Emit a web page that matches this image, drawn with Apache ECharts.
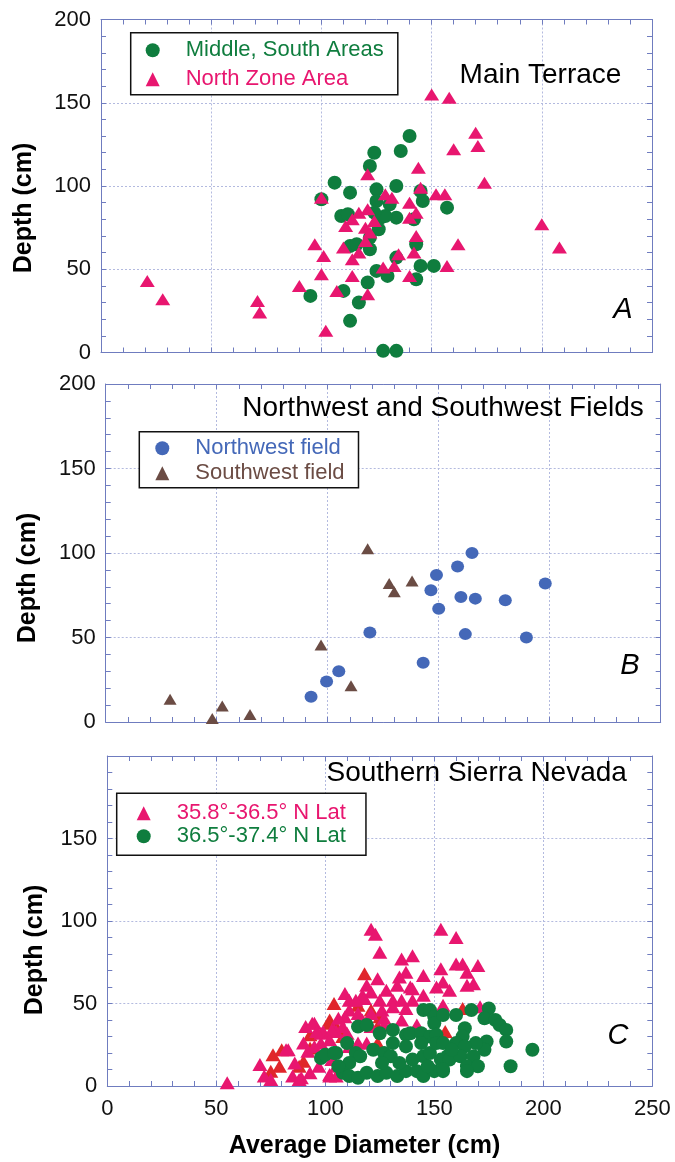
<!DOCTYPE html>
<html>
<head>
<meta charset="utf-8">
<script src="https://cdn.jsdelivr.net/npm/echarts@6/dist/echarts.min.js"></script>
<style>
  html, body { margin: 0; padding: 0; background: #fff; }
  #chart { width: 675px; height: 1162px; }
</style>
</head>
<body>
<div id="chart"></div>
<script>
// ---- data (average diameter cm, depth cm) ----
// A: Main Terrace
const mainCircles = [
  [95, 34], [100, 92], [106, 102], [124, 120], [122, 112], [113, 96], [125, 98], [109, 82],
  [112, 83], [125, 91], [131, 89], [113, 64], [116, 65], [122, 62], [125, 49], [121, 42],
  [110, 37], [117, 30], [113, 19], [128, 1], [134, 1], [140, 130], [136, 121], [134, 100],
  [145, 97], [146, 91], [157, 87], [127, 81], [134, 81], [142, 80], [126, 74], [122, 69],
  [143, 65], [134, 57], [130, 46], [145, 52], [151, 52], [143, 44], [129, 82], [124, 84]
];
const mainTriangles = [
  [21, 43], [28, 32], [71, 31], [72, 24], [90, 40], [97, 65], [100, 93], [101, 58],
  [100, 47], [102, 13], [107, 37], [121, 107], [117, 84], [121, 86], [114, 80], [111, 76],
  [120, 75], [122, 72], [120, 67], [110, 63], [117, 60], [114, 56], [114, 46], [121, 35],
  [150, 155], [158, 153], [170, 132], [171, 124], [160, 122], [174, 102], [144, 111], [145, 99],
  [152, 95], [156, 95], [129, 95], [132, 93], [140, 90], [143, 84], [140, 81], [124, 79],
  [143, 70], [162, 65], [135, 59], [142, 60], [128, 51], [133, 52], [157, 52], [140, 46],
  [200, 77], [208, 63]
];
// B: Northwest and Southwest Fields
const nwField = [
  [92.5, 15], [99.5, 24], [105, 30], [119, 53], [143, 35], [149, 87], [146.5, 78], [150, 67],
  [158.5, 92], [165, 100], [160, 74], [166.5, 73], [162, 52], [180, 72], [189.5, 50], [198, 82]
];
const swField = [
  [29, 13.5], [48, 2], [52.5, 9.5], [65, 4.5], [97, 45.5], [110.5, 21.5], [118, 102.5],
  [127.7, 82], [130, 77], [138, 83.5]
];
// C: Southern Sierra Nevada
const latSouth = [
  [55, 2], [70, 13], [72, 6], [75, 4], [83, 22], [86, 14], [85, 6], [89, 5], [90, 26],
  [91, 36], [95, 38], [98, 32], [99, 33], [92, 21], [95, 24], [88, 4], [102, 7], [105, 12],
  [104, 34], [98, 26], [82, 22], [94, 38], [96, 33], [100, 20], [103, 16], [97, 12], [93, 8],
  [121, 95], [123, 92], [125, 81], [153, 95], [135, 77], [140, 79], [124, 65], [137, 69],
  [134, 66], [145, 67], [153, 71], [154, 63], [139, 60], [140, 59], [133, 61], [151, 60],
  [145, 55], [121, 57], [119, 61], [117, 55], [118, 53], [128, 58], [131, 52], [125, 52],
  [109, 56], [111, 52], [114, 52], [135, 52], [140, 52], [137, 47], [111, 46], [115, 44],
  [109, 42], [121, 44], [126, 46], [131, 48], [127, 41], [135, 40], [154, 49], [106, 41],
  [108, 36], [142, 37], [160, 90], [160, 74], [163, 74], [165, 69], [170, 73], [157, 58],
  [165, 61], [168, 62], [171, 48], [117, 40], [121, 36], [127, 37], [105, 33], [110, 32],
  [111, 24], [115, 26], [119, 26], [102, 6], [105, 6], [103, 34], [102, 28]
];
const latSouthRed = [
  [76, 19], [79, 12], [75, 9], [80, 22], [90, 15], [88, 12], [93, 31], [104, 50], [102, 40],
  [93, 23], [118, 68], [115, 49], [121, 46], [124, 36], [125, 42], [102, 38], [105, 36],
  [108, 35], [108, 30], [124, 26], [155, 33], [163, 47]
];
const latNorth = [
  [98, 17], [100, 19], [115, 36], [119, 37], [125, 32], [131, 34], [137, 31], [139, 32],
  [145, 46], [148, 46], [150, 42], [150, 38], [154, 43], [144, 32], [148, 30], [151, 31],
  [110, 26], [105, 20], [104, 20], [114, 20], [116, 18], [111, 14], [122, 22], [127, 20],
  [131, 26], [130, 18], [137, 24], [144, 26], [145, 18], [148, 20], [151, 26], [154, 26],
  [156, 18], [108, 8], [111, 6], [115, 5], [119, 8], [124, 6], [128, 8], [133, 6], [137, 9],
  [142, 9], [145, 6], [150, 9], [154, 9], [134, 14], [140, 16], [160, 43], [167, 46],
  [175, 47], [173, 41], [178, 40], [180, 37], [183, 34], [164, 35], [163, 30], [183, 27],
  [174, 27], [173, 22], [169, 26], [160, 26], [164, 24], [195, 22], [153, 16], [157, 16],
  [162, 18], [168, 18], [165, 12], [170, 12], [154, 10], [165, 9], [185, 12], [106, 12],
  [126, 14], [147, 12], [158, 22]
];

// tick labels
const xTicks = [0, 50, 100, 150, 200, 250];
const yTicks = [0, 50, 100, 150, 200];
const yTicksC = [0, 50, 100, 150];

const GREEN = '#0f7d3e';
const PINK = '#e8166f';
const RED = '#e0262b';
const BLUE = '#4468b8';
const BROWN = '#6b4c44';
const AXIS = '#6f7cbf';
const GRIDLINE = '#b3badf';
const FONT = '"Liberation Sans", Arial, Helvetica, sans-serif';

const myChart = echarts.init(document.getElementById('chart'));

function makeX(gridIndex, position, labels) {
  return {
    type: 'value', gridIndex: gridIndex, position: position,
    min: xTicks[0], max: xTicks[xTicks.length - 1], interval: 50,
    axisLine: { show: true, onZero: false, lineStyle: { color: AXIS, width: 1 } },
    axisTick: { show: true, inside: true, length: 5, lineStyle: { color: AXIS } },
    minorTick: { show: true, splitNumber: 5, length: 5, lineStyle: { color: AXIS } },
    splitLine: { show: position === 'bottom', lineStyle: { color: GRIDLINE, type: [2, 2], width: 1 } },
    axisLabel: {
      show: !!labels, margin: 12, fontSize: 22, color: '#111', fontFamily: FONT,
      formatter: v => xTicks.indexOf(v) >= 0 ? String(v) : ''
    }
  };
}

function makeY(gridIndex, position, labels) {
  return {
    type: 'value', gridIndex: gridIndex, position: position,
    min: 0, max: 200, interval: 50,
    axisLine: { show: true, onZero: false, lineStyle: { color: AXIS, width: 1 } },
    axisTick: { show: true, inside: true, length: 5, lineStyle: { color: AXIS } },
    minorTick: { show: true, splitNumber: 5, length: 5, lineStyle: { color: AXIS } },
    splitLine: { show: position === 'left', lineStyle: { color: GRIDLINE, type: [2, 2], width: 1 } },
    axisLabel: {
      show: !!labels, margin: 10, fontSize: 22, color: '#111', fontFamily: FONT,
      formatter: v => labels && labels.indexOf(v) >= 0 ? String(v) : ''
    }
  };
}

function legendBox(left, top, pad, names, colors, icons, gap, lineH) {
  return {
    orient: 'vertical', left: left, top: top,
    padding: pad, itemGap: gap, itemWidth: 14, itemHeight: 14,
    backgroundColor: '#fff', borderColor: '#111', borderWidth: 1.5, borderRadius: 0,
    selectedMode: false,
    data: names.map((n, i) => ({ name: n, icon: icons[i], textStyle: { color: colors[i] } })),
    textStyle: { fontSize: 22, fontFamily: FONT, padding: [0, 0, 0, 21], lineHeight: lineH }
  };
}

function scatter(name, data, xi, yi, color, symbol, size) {
  return {
    name: name, type: 'scatter', xAxisIndex: xi, yAxisIndex: yi,
    symbol: symbol, symbolSize: size, data: data,
    itemStyle: { color: color, opacity: 1 },
    emphasis: { disabled: true }
  };
}

function label(text, x, y, size, opts) {
  return {
    type: 'text', x: x, y: y, z: 10,
    rotation: (opts && opts.rotation) || 0,
    style: Object.assign({
      text: text, fontSize: size, fontFamily: FONT, fill: '#000',
      textAlign: 'center', textVerticalAlign: 'middle'
    }, (opts && opts.style) || {})
  };
}

const option = {
  animation: false,
  backgroundColor: '#fff',
  grid: [
    { left: 101, top: 19.5, width: 551, height: 333 },
    { left: 105.7, top: 384, width: 555, height: 338 },
    { left: 107.3, top: 756, width: 545, height: 330 }
  ],
  xAxis: [
    makeX(0, 'bottom', false), makeX(0, 'top', false),
    makeX(1, 'bottom', false), makeX(1, 'top', false),
    makeX(2, 'bottom', true), makeX(2, 'top', false)
  ],
  yAxis: [
    makeY(0, 'left', yTicks), makeY(0, 'right', null),
    makeY(1, 'left', yTicks), makeY(1, 'right', null),
    makeY(2, 'left', yTicksC), makeY(2, 'right', null)
  ],
  legend: [
    legendBox(130.7, 32.7, [5, 14, 3, 15], ['Middle, South Areas', 'North Zone Area'],
      [GREEN, PINK], ['circle', 'triangle'], 4, 25),
    legendBox(139.3, 431.7, [4, 14, 2, 16], ['Northwest field', 'Southwest field'],
      [BLUE, BROWN], ['circle', 'triangle'], 0, 25),
    legendBox(116.7, 793.3, [9, 20, 8, 20], ['35.8°-36.5° N Lat', '36.5°-37.4° N Lat'],
      [PINK, GREEN], ['triangle', 'circle'], 1, 22)
  ],
  series: [
    scatter('Middle, South Areas', mainCircles, 0, 0, GREEN, 'circle', 14),
    scatter('North Zone Area', mainTriangles, 0, 0, PINK, 'triangle', [15, 12]),
    scatter('Northwest field', nwField, 2, 2, BLUE, 'circle', [13, 12]),
    scatter('Southwest field', swField, 2, 2, BROWN, 'triangle', [13, 11]),
    scatter('35.8-36.5 red', latSouthRed, 4, 4, RED, 'triangle', [15, 13]),
    scatter('35.8°-36.5° N Lat', latSouth, 4, 4, PINK, 'triangle', [15, 13]),
    scatter('36.5°-37.4° N Lat', latNorth, 4, 4, GREEN, 'circle', 14)
  ],
  graphic: [
    label('Main Terrace', 540.5, 75, 28),
    label('Northwest and Southwest Fields', 443, 408, 28),
    label('Southern Sierra Nevada', 476.7, 773, 28),
    label('A', 623, 310, 29, { style: { fontStyle: 'italic' } }),
    label('B', 630, 666, 29, { style: { fontStyle: 'italic' } }),
    label('C', 618, 1036, 29, { style: { fontStyle: 'italic' } }),
    label('Depth (cm)', 24, 208, 25, { rotation: Math.PI / 2, style: { fontWeight: 'bold' } }),
    label('Depth (cm)', 28.5, 578, 25, { rotation: Math.PI / 2, style: { fontWeight: 'bold' } }),
    label('Depth (cm)', 35, 950, 25, { rotation: Math.PI / 2, style: { fontWeight: 'bold' } }),
    label('Average Diameter (cm)', 364.5, 1146, 25, { style: { fontWeight: 'bold' } })
  ]
};

myChart.setOption(option);
</script>
</body>
</html>
